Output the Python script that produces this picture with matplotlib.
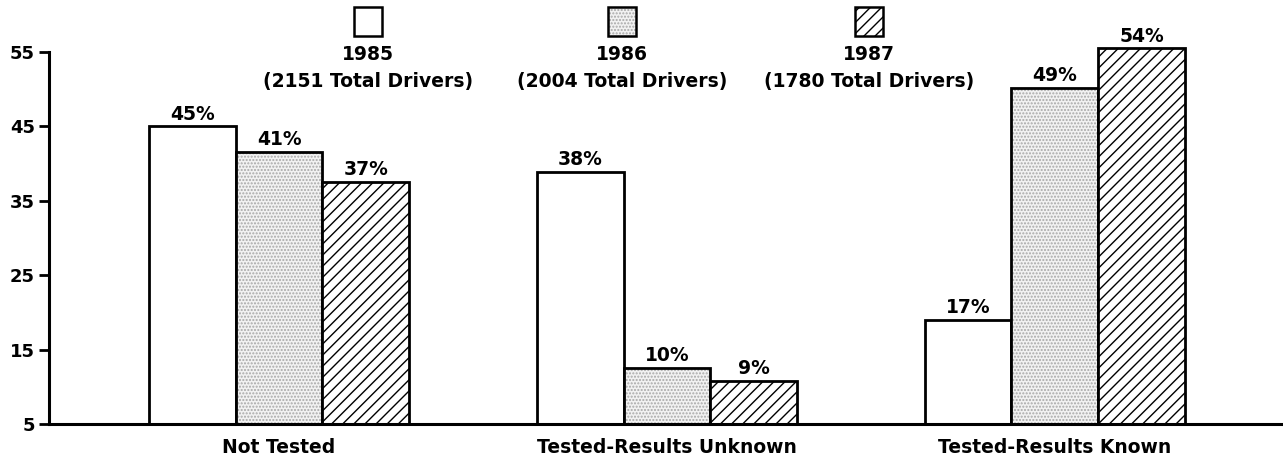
import numpy as np
import matplotlib.pyplot as plt
from matplotlib.patches import Rectangle

plt.rcParams['font.family'] = ['DejaVu Sans']
plt.rcParams['hatch.linewidth'] = 1.0

categories = ['Not Tested', 'Tested-Results Unknown', 'Tested-Results Known']
years = ['1985', '1986', '1987']
drivers = ['(2151 Total Drivers)', '(2004 Total Drivers)', '(1780 Total Drivers)']

# bar heights as drawn in the picture, and the printed labels
heights_1985 = [45.0, 38.9, 19.0]
heights_1986 = [41.6, 12.5, 50.2]
heights_1987 = [37.5, 10.8, 55.5]
labels_1985 = ['45%', '38%', '17%']
labels_1986 = ['41%', '10%', '49%']
labels_1987 = ['37%', '9%', '54%']

heights = [heights_1985, heights_1986, heights_1987]
labels = [labels_1985, labels_1986, labels_1987]

base = 5
width = 0.224
x = np.arange(len(categories))
fs = 13.5

fig = plt.figure(figsize=(12.83, 4.65), dpi=100)
ax = fig.add_axes([49/1283, 41/465, 1 - 49/1283, 372/465])


def draw_bars(ax, xs, vals, style, w):
    vals = np.array(vals) - base
    if style == 'dots':
        ax.bar(xs, vals, w, bottom=base, color='#f2f2f2', hatch='.....',
               edgecolor='#a8a8a8', linewidth=0, clip_on=False)
    elif style == 'hatch':
        ax.bar(xs, vals, w, bottom=base, color='white', hatch='///',
               edgecolor='black', linewidth=0, clip_on=False)
    ax.bar(xs, vals, w, bottom=base, fill=False, edgecolor='black',
           linewidth=2.0, clip_on=False)


styles = ['plain', 'dots', 'hatch']
for i in range(3):
    xs = x + (i - 1) * width
    draw_bars(ax, xs, heights[i], styles[i], width)
    for xx, h, lab in zip(xs, heights[i], labels[i]):
        ax.annotate(lab, (xx, h), xytext=(0, 2), textcoords='offset points',
                    ha='center', va='bottom', fontsize=fs, fontweight='bold',
                    annotation_clip=False)

ax.set_xlim(-0.593, 2.588)
ax.set_ylim(5, 55)
ax.set_yticks([5, 15, 25, 35, 45, 55])
ax.set_xticks(x)
ax.set_xticklabels(categories, fontsize=fs, fontweight='bold')
ax.tick_params(axis='x', length=0, pad=10)
ax.tick_params(axis='y', length=7, width=2, labelsize=13, pad=3)
for t in ax.get_yticklabels():
    t.set_fontweight('bold')
ax.spines['top'].set_visible(False)
ax.spines['right'].set_visible(False)
ax.spines['left'].set_linewidth(2.2)
ax.spines['bottom'].set_linewidth(2.2)

# legend: box above year and driver count
leg_x = [368, 622, 869]
W, H = 1283, 465
for i in range(3):
    cx = leg_x[i]
    bx, by, bw, bh = cx - 14, 7, 28, 29
    fc = {'plain': 'white', 'dots': '#f2f2f2', 'hatch': 'white'}[styles[i]]
    if styles[i] == 'dots':
        fig.add_artist(Rectangle((bx / W, 1 - (by + bh) / H), bw / W, bh / H,
                                 transform=fig.transFigure, facecolor=fc,
                                 hatch='.....', edgecolor='#a8a8a8', linewidth=0))
    elif styles[i] == 'hatch':
        fig.add_artist(Rectangle((bx / W, 1 - (by + bh) / H), bw / W, bh / H,
                                 transform=fig.transFigure, facecolor=fc,
                                 hatch='///', edgecolor='black', linewidth=0))
    fig.add_artist(Rectangle((bx / W, 1 - (by + bh) / H), bw / W, bh / H,
                             transform=fig.transFigure, fill=False,
                             edgecolor='black', linewidth=1.8))
    fig.text(cx / W, 1 - 55 / H, years[i], ha='center', va='center',
             fontsize=fs, fontweight='bold')
    fig.text(cx / W, 1 - 81 / H, drivers[i], ha='center', va='center',
             fontsize=fs, fontweight='bold')

fig.savefig('out.png', dpi=100)
